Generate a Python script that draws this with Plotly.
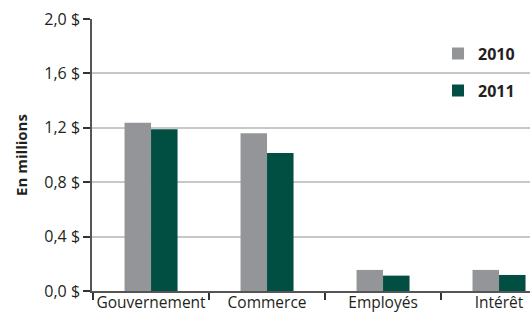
import plotly.graph_objects as go

categories = ["Gouvernement", "Commerce", "Employés", "Intérêt"]
values_2010 = [1.237, 1.16, 0.155, 0.155]
values_2011 = [1.19, 1.015, 0.113, 0.118]
series_names = ["2010", "2011"]
y_ticks = [0.0, 0.4, 0.8, 1.2, 1.6, 2.0]
y_tick_labels = ["0,0 $", "0,4 $", "0,8 $", "1,2 $", "1,6 $", "2,0 $"]

font_family = "Open Sans, Noto Sans, sans-serif"
text_color = "#231f20"

fig = go.Figure()
fig.add_trace(go.Bar(x=categories, y=values_2010, name=series_names[0],
                     marker=dict(color="#939598", line=dict(width=0)),
                     legendgroup="a"))
fig.add_trace(go.Bar(x=categories, y=values_2011, name=series_names[1],
                     marker=dict(color="#004f42", line=dict(width=0)),
                     legendgroup="b"))

fig.update_layout(
    width=530, height=314,
    margin=dict(l=92, r=0, t=19, b=23),
    paper_bgcolor="white", plot_bgcolor="white",
    barmode="group", bargap=0.543, bargroupgap=0,
    font=dict(family=font_family, size=16, color=text_color),
    showlegend=True,
    legend=dict(x=0.79, y=0.935, xanchor="left", yanchor="top",
                font=dict(size=16, color=text_color, family=font_family, weight="bold"),
                tracegroupgap=13, bgcolor="rgba(0,0,0,0)",
                itemwidth=30),
    xaxis=dict(type="category", range=[-0.509, 3.267], automargin=False,
               showline=True, linecolor="#555555", linewidth=1.5,
               ticks="outside", tickson="boundaries", ticklen=7,
               tickcolor="#333333", tickwidth=1.5, ticklabelstandoff=-3,
               tickangle=0,
               showgrid=False, tickfont=dict(size=15.5, color=text_color)),
    yaxis=dict(range=[0, 2.0], tickvals=y_ticks, ticktext=y_tick_labels,
               automargin=False,
               showline=True, linecolor="#555555", linewidth=1.5,
               ticks="outside", ticklen=7, tickcolor="#333333", tickwidth=1.5,
               showgrid=True, gridcolor="#c8c8c8", gridwidth=1.5,
               zeroline=False,
               tickfont=dict(size=16, color=text_color),
               title=dict(text="<b>En millions</b>", standoff=13,
                          font=dict(size=15, color=text_color))),
)

fig.write_html("out.html", config={"displayModeBar": False},
               post_script="document.body.style.margin='0';document.body.style.padding='0';")
